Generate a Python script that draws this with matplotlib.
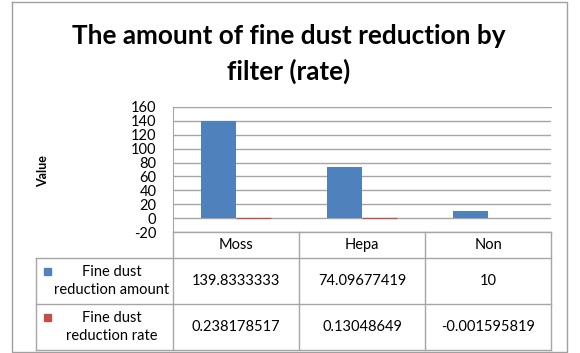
import matplotlib.pyplot as plt
import numpy as np

# Data
categories = ["Moss", "Hepa", "Non"]
reduction_amount = [139.8333333, 74.09677419, 10]
reduction_rate = [0.238178517, 0.13048649, -0.001595819]
amount_labels = ["139.8333333", "74.09677419", "10"]
rate_labels = ["0.238178517", "0.13048649", "-0.001595819"]
series_names = ["Fine dust\nreduction amount", "Fine dust\nreduction rate"]
yticks = list(range(-20, 161, 20))

blue = "#4F81BD"
red = "#C0504D"
grid_gray = "#A6A6A6"

plt.rcParams["font.family"] = ["Lato", "DejaVu Sans"]

W, H = 580, 353
fig = plt.figure(figsize=(W / 100, H / 100), dpi=100)

# overlay axes in pixel coordinates for border, table and legend keys
ov = fig.add_axes([0, 0, 1, 1], zorder=0)
ov.set_xlim(0, W)
ov.set_ylim(H, 0)
ov.axis("off")

# chart border
ov.plot([12, 567, 567, 12, 12], [2, 2, 352, 352, 2], color="#A0A0A0", lw=1)

# title
ov.text(289, 36, "The amount of fine dust reduction by", ha="center", va="center",
        fontsize=18.8, fontweight="bold")
ov.text(289, 71, "filter (rate)", ha="center", va="center", fontsize=18.8, fontweight="bold")

# bar plot area
x_left, x_right = 173, 551
y_top, y_bot = 107, 232
ax = fig.add_axes([x_left / W, (H - y_bot) / H, (x_right - x_left) / W, (y_bot - y_top) / H],
                  zorder=1)
ax.set_facecolor("none")
x = np.arange(len(categories))
w = 0.28
ax.bar(x - w / 2, reduction_amount, w, color=blue, zorder=3)
ax.bar(x + w / 2, reduction_rate, w, color=red, edgecolor=red,
       linewidth=[0.9 if v > 0 else 0 for v in reduction_rate], zorder=3)
ax.set_xlim(-0.5, len(categories) - 0.5)
ax.set_ylim(-20, 160)
ax.set_yticks(yticks)
ax.set_yticklabels([str(t) for t in yticks], fontsize=10.5)
ax.set_xticks([])
ax.tick_params(axis="y", length=0, pad=12)
ax.yaxis.grid(True, color=grid_gray, lw=1)
ax.set_axisbelow(True)
for s in ["right", "bottom"]:
    ax.spines[s].set_visible(False)
ax.spines["left"].set_color(grid_gray)
ax.spines["top"].set_color(grid_gray)

ov.text(43, 171, "Value", rotation=90, ha="center", va="center", fontsize=9, fontweight="bold")

# data table below the plot
col_w = (x_right - x_left) / len(categories)
col_edges = [x_left + i * col_w for i in range(len(categories) + 1)]
row_edges = [232, 258, 304, 350]
lab_left = 36
tc = "#A6A6A6"
ov.plot([x_left, x_right], [row_edges[0], row_edges[0]], color=tc, lw=1)
for r in row_edges[1:]:
    ov.plot([lab_left, x_right], [r, r], color=tc, lw=1)
for c in col_edges:
    ov.plot([c, c], [row_edges[0], row_edges[-1]], color=tc, lw=1)
ov.plot([lab_left, lab_left], [row_edges[1], row_edges[-1]], color=tc, lw=1)

for i, cat in enumerate(categories):
    cx = (col_edges[i] + col_edges[i + 1]) / 2
    ov.text(cx, (row_edges[0] + row_edges[1]) / 2, cat, ha="center", va="center", fontsize=10.5)
    ov.text(cx, (row_edges[1] + row_edges[2]) / 2, amount_labels[i], ha="center", va="center",
            fontsize=10.5)
    ov.text(cx, (row_edges[2] + row_edges[3]) / 2, rate_labels[i], ha="center", va="center",
            fontsize=10.5)

for j, (name, col) in enumerate(zip(series_names, [blue, red])):
    cy = (row_edges[j + 1] + row_edges[j + 2]) / 2
    ov.text(112, cy, name, ha="center", va="center", fontsize=10.5, linespacing=1.35)
    ov.add_patch(plt.Rectangle((44, cy - 13), 7, 7, color=col))

fig.savefig("out.png", dpi=100)
